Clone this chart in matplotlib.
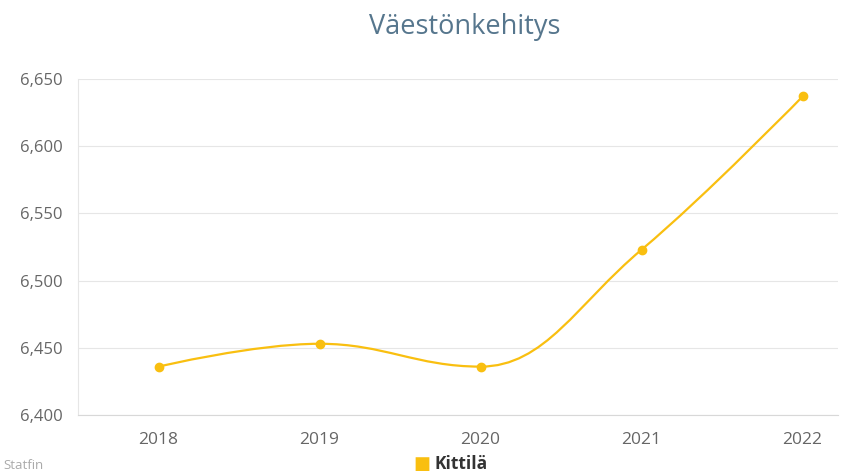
import matplotlib
matplotlib.use("Agg")
import matplotlib.pyplot as plt
from matplotlib.path import Path
from matplotlib.patches import PathPatch
import numpy as np

plt.rcParams["font.family"] = ["Open Sans", "DejaVu Sans"]

years = ["2018", "2019", "2020", "2021", "2022"]
population = [6436, 6453, 6436, 6523, 6637]
series_name = "Kittilä"
yticks = [6400, 6450, 6500, 6550, 6600, 6650]

LINE = "#f9bf10"


def spline_path(xs, ys, smoothing=1.5):
    # Highcharts-like spline control points
    n = len(xs)
    denom = smoothing + 1
    left = [(xs[i], ys[i]) for i in range(n)]
    right = [(xs[i], ys[i]) for i in range(n)]
    for i in range(1, n - 1):
        lx, ly = xs[i - 1], ys[i - 1]
        nx, ny = xs[i + 1], ys[i + 1]
        px, py = xs[i], ys[i]
        lcx = (smoothing * px + lx) / denom
        lcy = (smoothing * py + ly) / denom
        rcx = (smoothing * px + nx) / denom
        rcy = (smoothing * py + ny) / denom
        if rcx != lcx:
            corr = (rcy - lcy) * (rcx - px) / (rcx - lcx) + py - rcy
            lcy += corr
            rcy += corr
        if lcy > max(ly, py):
            lcy = max(ly, py)
            rcy = 2 * py - lcy
        elif lcy < min(ly, py):
            lcy = min(ly, py)
            rcy = 2 * py - lcy
        if rcy > max(py, ny):
            rcy = max(py, ny)
            lcy = 2 * py - rcy
        elif rcy < min(py, ny):
            rcy = min(py, ny)
            lcy = 2 * py - rcy
        left[i] = (lcx, lcy)
        right[i] = (rcx, rcy)
    verts = [(xs[0], ys[0])]
    codes = [Path.MOVETO]
    for i in range(1, n):
        verts += [right[i - 1], left[i], (xs[i], ys[i])]
        codes += [Path.CURVE4] * 3
    return Path(verts, codes)


fig = plt.figure(figsize=(8.43, 4.73), dpi=100)
ax = fig.add_axes([78 / 843, 58 / 473, 760 / 843, 336 / 473])

x = np.arange(len(years))
path = spline_path(list(x.astype(float)), population)
ax.add_patch(PathPatch(path, facecolor="none", edgecolor=LINE, lw=1.6, zorder=3))
ax.plot(x, population, "o", color=LINE, ms=6, zorder=4)

ax.set_xlim(-0.5, 4.22)
ax.set_ylim(6400, 6650)
ax.set_yticks(yticks)
ax.set_yticklabels([f"{v:,}" for v in yticks])
ax.set_xticks(x)
ax.set_xticklabels(years)
ax.grid(axis="y", color="#e6e6e6", lw=0.8)
ax.set_axisbelow(True)
for s in ["top", "right"]:
    ax.spines[s].set_visible(False)
ax.spines["left"].set_color("#e6e6e6")
ax.spines["bottom"].set_color("#d8d8d8")
ax.tick_params(axis="both", length=0, labelsize=12.5, colors="#666666")
ax.tick_params(axis="y", pad=11, labelsize=12)
ax.tick_params(axis="x", pad=12)

fig.text(465 / 843, 1 - 27 / 473, "Väestönkehitys", ha="center", va="center",
         fontsize=19.5, color="#56768d")
fig.text(3 / 843, 1 - 465 / 473, "Statfin", ha="left", va="center",
         fontsize=9.5, color="#aaaaaa")
fig.text(422 / 843, 1 - 464 / 473, "■", ha="center", va="center",
         fontsize=13, color=LINE, family="DejaVu Sans")
fig.text(435 / 843, 1 - 464 / 473, series_name, ha="left", va="center",
         fontsize=12.5, color="#333333", fontweight="bold")

fig.savefig("out.png", dpi=100)
